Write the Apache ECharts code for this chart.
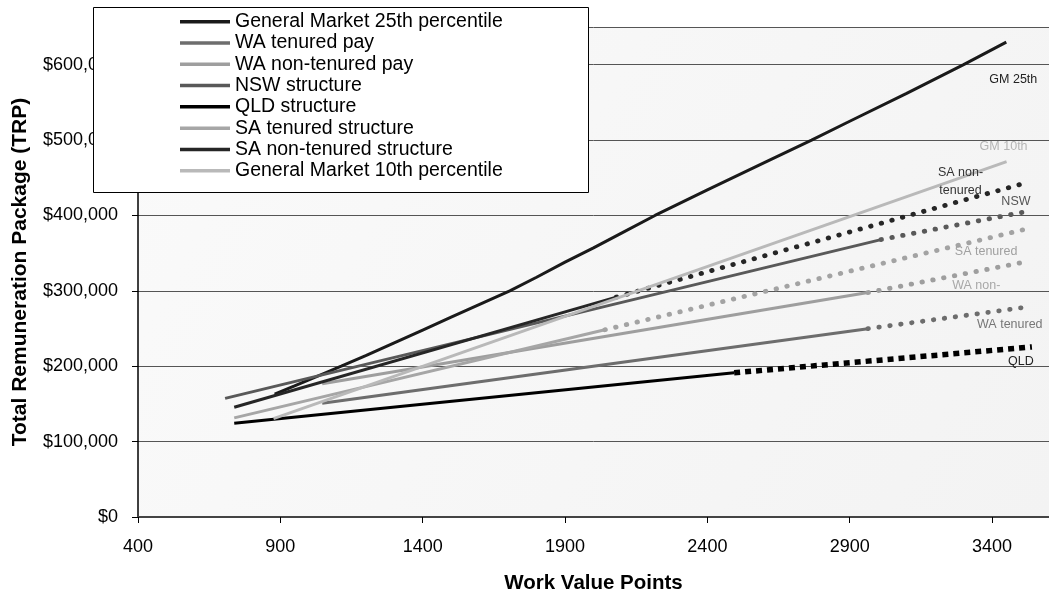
<!DOCTYPE html>
<html>
<head>
<meta charset="utf-8">
<script src="https://cdn.jsdelivr.net/npm/echarts@6/dist/echarts.min.js"></script>
<style>
html, body { margin: 0; padding: 0; background: #fff; }
#main { width: 1049px; height: 599px; }
</style>
</head>
<body>
<div id="main"></div>
<script>
var myChart = echarts.init(document.getElementById('main'))

// values: work value points (x) and TRP in $ (y)
var gm25X = [880, 950, 1000, 1050, 1114, 1200, 1300, 1400, 1500, 1600, 1706, 1800, 1900, 2000, 2100, 2216, 2400, 2600, 2766, 2900, 3100, 3300, 3450]
var gm25Y = [163000, 174000, 182000, 190000, 200000, 214000, 231000, 248000, 265000, 282000, 300000, 318000, 338000, 357000, 377000, 400000, 434000, 470000, 500000, 525000, 562000, 600000, 630000]

var gm10X = [876, 3451]
var gm10Y = [130600, 471400]

var waTenX = [1047, 2964]
var waTenY = [150800, 249800]
var waTenExtX = [2964, 3529]
var waTenExtY = [249800, 278800]

var waNonX = [1047, 2964]
var waNonY = [176800, 297700]
var waNonExtX = [2964, 3520]
var waNonExtY = [297700, 338600]

var nswX = [706, 3010]
var nswY = [157400, 368000]
var nswExtX = [3010, 3526]
var nswExtY = [368000, 405500]

var qldX = [738, 2494]
var qldY = [124400, 191300]
var qldExtX = [2494, 3540]
var qldExtY = [191300, 225600]

var saTenX = [738, 2040]
var saTenY = [131500, 248400]
var saTenExtX = [2040, 3509]
var saTenExtY = [248400, 381000]

var saNonX = [738, 2080]
var saNonY = [145500, 291600]
var saNonExtX = [2080, 3507]
var saNonExtY = [291600, 442000]

var legendNames = ['General Market 25th percentile', 'WA tenured pay', 'WA non-tenured pay', 'NSW structure',
    'QLD structure', 'SA tenured structure', 'SA non-tenured structure', 'General Market 10th percentile']

var font = 'Liberation Sans, Arial, sans-serif'

function pts(xs, ys) {
    return xs.map(function (x, i) { return [x, ys[i]] })
}

// small text at the end of a line
function endTag(xs, ys, text, color, offset) {
    var n = xs.length - 1
    return {
        silent: true,
        symbol: 'rect',
        symbolSize: 1,
        itemStyle: { color: 'transparent' },
        data: [{
            coord: [xs[n], ys[n]],
            label: {
                show: true, position: 'inside', offset: offset, formatter: text,
                color: color, fontSize: 12.5, fontFamily: font, lineHeight: 18
            }
        }]
    }
}

function solid(name, xs, ys, color) {
    return {
        name: name, type: 'line', data: pts(xs, ys), symbol: 'none', color: color,
        lineStyle: { color: color, width: 3 }, silent: true
    }
}

function dotted(name, xs, ys, color) {
    return {
        name: name, type: 'line', data: pts(xs, ys), symbol: 'none', color: color,
        lineStyle: { color: color, width: 4.8, type: [0.5, 10.5], cap: 'round' }, silent: true
    }
}

var gm25 = solid(legendNames[0], gm25X, gm25Y, '#1a1a1a')
gm25.markPoint = endTag(gm25X, gm25Y, 'GM 25th', '#222', [7, 37])

var gm10 = solid(legendNames[7], gm10X, gm10Y, '#b9b9b9')
gm10.markPoint = endTag(gm10X, gm10Y, 'GM 10th', '#b5b5b5', [-3, -15])

var saNonExt = dotted('sa non ext', saNonExtX, saNonExtY, '#262626')
saNonExt.markPoint = endTag(saNonExtX, saNonExtY, 'SA non-\ntenured', '#333', [-62, -2])

var nswExt = dotted('nsw ext', nswExtX, nswExtY, '#595959')
nswExt.markPoint = endTag(nswExtX, nswExtY, 'NSW', '#555', [-12, -10])

var saTenExt = dotted('sa ten ext', saTenExtX, saTenExtY, '#a3a3a3')
saTenExt.markPoint = endTag(saTenExtX, saTenExtY, 'SA tenured', '#a0a0a0', [-37, 22])

var waNonExt = dotted('wa non ext', waNonExtX, waNonExtY, '#9e9e9e')
waNonExt.markPoint = endTag(waNonExtX, waNonExtY, 'WA non-', '#a8a8a8', [-50, 24])

var waTenExt = dotted('wa ten ext', waTenExtX, waTenExtY, '#6d6d6d')
waTenExt.markPoint = endTag(waTenExtX, waTenExtY, 'WA tenured', '#777', [-19, 18])

var qldExt = {
    name: 'qld ext', type: 'line', data: pts(qldExtX, qldExtY), symbol: 'none', color: '#000',
    lineStyle: { color: '#000', width: 5.5, type: [6, 5], cap: 'butt' }, silent: true
}
qldExt.markPoint = endTag(qldExtX, qldExtY, 'QLD', '#222', [-11, 15])

var options = {
    animation: false,
    backgroundColor: '#fff',
    textStyle: { fontFamily: font },
    grid: {
        left: 138, top: 27, width: 921, height: 493,
        show: true, borderWidth: 0,
        backgroundColor: new echarts.graphic.LinearGradient(0, 0, 1, 1, [
            { offset: 0, color: '#fafafa' }, { offset: 1, color: '#f3f3f3' }
        ])
    },
    // legend box drawn as a rect so it covers the top y labels
    graphic: [{
        type: 'rect', left: 93, top: 7, z: 3,
        shape: { width: 495, height: 185 },
        style: { fill: '#fff', stroke: '#000', lineWidth: 1 }
    }],
    legend: {
        data: legendNames,
        orient: 'vertical',
        left: 180, top: 11,
        padding: 0,
        itemGap: 0,
        itemWidth: 50, itemHeight: 3.5,
        icon: 'rect',
        z: 4,
        textStyle: { fontSize: 19.5, color: '#000', fontFamily: font, lineHeight: 21.3 }
    },
    xAxis: {
        type: 'value',
        min: 400, max: 3600, interval: 500,
        name: 'Work Value Points',
        nameLocation: 'middle', nameGap: 56,
        nameTextStyle: { fontSize: 20.5, fontWeight: 'bold', color: '#000', fontFamily: font },
        axisLine: { show: true, onZero: false, lineStyle: { color: '#444', width: 2 } },
        axisTick: { show: true, length: 6, lineStyle: { color: '#000' } },
        axisLabel: {
            fontSize: 18, color: '#000', margin: 21, showMaxLabel: false, fontFamily: font,
            formatter: function (v) { return String(v) }
        },
        splitLine: { show: false }
    },
    yAxis: {
        type: 'value',
        min: 0, max: 650000, interval: 100000,
        name: 'Total Remuneration Package (TRP)',
        nameLocation: 'middle', nameGap: 107,
        nameTextStyle: { fontSize: 21, fontWeight: 'bold', color: '#000', fontFamily: font },
        axisLine: { show: true, lineStyle: { color: '#000', width: 1.5 } },
        axisTick: { show: true, length: 6, lineStyle: { color: '#000' } },
        axisLabel: {
            fontSize: 18, color: '#000', margin: 20, showMaxLabel: false, fontFamily: font,
            formatter: function (v) { return '$' + v.toLocaleString('en-US') }
        },
        splitLine: { show: true, lineStyle: { color: '#555', width: 1 } }
    },
    series: [
        gm25,
        solid(legendNames[1], waTenX, waTenY, '#6d6d6d'), waTenExt,
        solid(legendNames[2], waNonX, waNonY, '#9e9e9e'), waNonExt,
        solid(legendNames[3], nswX, nswY, '#595959'), nswExt,
        solid(legendNames[4], qldX, qldY, '#000'), qldExt,
        solid(legendNames[5], saTenX, saTenY, '#a6a6a6'), saTenExt,
        solid(legendNames[6], saNonX, saNonY, '#262626'), saNonExt,
        gm10
    ]
}

myChart.setOption(options)
</script>
</body>
</html>
